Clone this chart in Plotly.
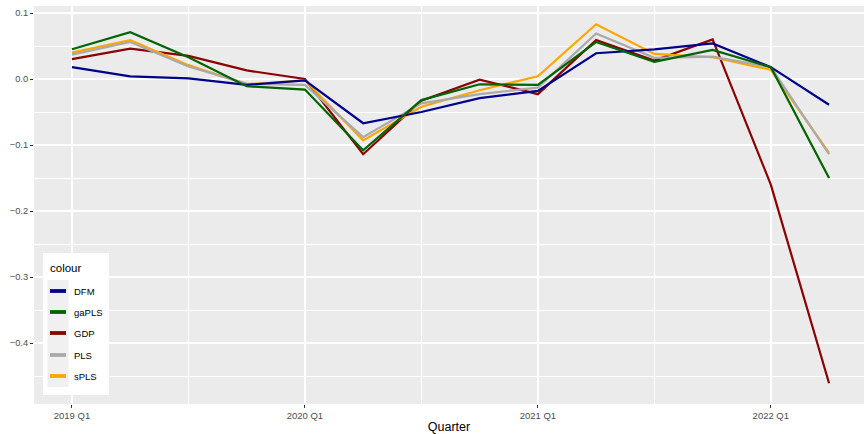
import plotly.graph_objects as go

quarters = ["2019 Q1", "2019 Q2", "2019 Q3", "2019 Q4",
            "2020 Q1", "2020 Q2", "2020 Q3", "2020 Q4",
            "2021 Q1", "2021 Q2", "2021 Q3", "2021 Q4",
            "2022 Q1", "2022 Q2"]

DFM   = [0.018, 0.004, 0.001, -0.009, -0.002, -0.067, -0.050, -0.029, -0.018, 0.039, 0.045, 0.054, 0.018, -0.039]
gaPLS = [0.045, 0.071, 0.033, -0.011, -0.016, -0.108, -0.032, -0.008, -0.009, 0.056, 0.026, 0.044, 0.018, -0.150]
GDP   = [0.030, 0.046, 0.035, 0.013, 0.000, -0.114, -0.033, -0.001, -0.023, 0.059, 0.028, 0.060, -0.160, -0.461]
PLS   = [0.037, 0.056, 0.019, -0.007, -0.009, -0.088, -0.037, -0.023, -0.013, 0.069, 0.032, 0.034, 0.018, -0.114]
sPLS  = [0.040, 0.059, 0.021, -0.008, -0.002, -0.093, -0.042, -0.017, 0.004, 0.083, 0.038, 0.033, 0.014, -0.112]

series_names = ["DFM", "gaPLS", "GDP", "PLS", "sPLS"]
series_vals = [DFM, gaPLS, GDP, PLS, sPLS]
series_colors = ["#00008B", "#006400", "#8B0000", "#A9A9A9", "#FFA500"]
draw_order = ["GDP", "sPLS", "PLS", "DFM", "gaPLS"]

W, H = 864, 434
L, R, T, B = 34, 0, 6, 30
pw, ph = W - L - R, H - T - B

def px(x):
    return (x - L) / pw

def py(y):
    return (H - B - y) / ph

xidx = list(range(len(quarters)))
fig = go.Figure()
for name in draw_order:
    k = series_names.index(name)
    fig.add_trace(go.Scatter(x=xidx, y=series_vals[k], mode="lines", name=name,
                             line=dict(color=series_colors[k], width=2.2), showlegend=False))

ytick_vals = [0.1, 0.0, -0.1, -0.2, -0.3, -0.4]
ytick_text = ["0.1", "0.0", "\u22120.1", "\u22120.2", "\u22120.3", "\u22120.4"]
xtick_idx = [0, 4, 8, 12]

# legend drawn inside panel (ggplot style)
shapes = [
    dict(type="rect", xref="paper", yref="paper", x0=px(43), x1=px(109), y0=py(395), y1=py(253),
         fillcolor="white", line=dict(width=0), layer="above"),
    dict(type="rect", xref="paper", yref="paper", x0=px(47.5), x1=px(68.5), y0=py(387), y1=py(280),
         fillcolor="#F0F0F0", line=dict(width=0), layer="above"),
]
annotations = [dict(text="colour", xref="paper", yref="paper", x=px(47.5), y=py(268),
                    xanchor="left", yanchor="middle", showarrow=False,
                    font=dict(size=11.5, color="black"))]
key_y = [291, 312, 333, 355, 376]
for k, name in enumerate(series_names):
    shapes.append(dict(type="line", xref="paper", yref="paper", x0=px(50), x1=px(66),
                       y0=py(key_y[k]), y1=py(key_y[k]),
                       line=dict(color=series_colors[k], width=3.8), layer="above"))
    annotations.append(dict(text=name, xref="paper", yref="paper", x=px(71.5), y=py(key_y[k]),
                            xanchor="left", yanchor="middle", showarrow=False,
                            font=dict(size=9.5, color="black")))

fig.update_layout(
    width=W, height=H,
    margin=dict(l=L, r=R, t=T, b=B, pad=0),
    paper_bgcolor="white", plot_bgcolor="#EBEBEB",
    font=dict(family="Liberation Sans, Arial, sans-serif", color="#4D4D4D", size=9),
    showlegend=False,
    xaxis=dict(range=[-0.652, 13.6], tickvals=xtick_idx,
               ticktext=[quarters[i] for i in xtick_idx],
               showgrid=True, gridcolor="white", gridwidth=1.6, zeroline=False,
               ticks="outside", ticklen=3, tickcolor="#333333", tickwidth=1,
               tickfont=dict(size=9.5, color="#4D4D4D"),
               minor=dict(tickvals=[2, 6, 10], showgrid=True, gridcolor="white", gridwidth=0.8, ticks=""),
               title=dict(text="Quarter", font=dict(size=12.5, color="black"), standoff=2),
               showline=False),
    yaxis=dict(range=[-0.4924, 0.1106], tickvals=ytick_vals, ticktext=ytick_text,
               showgrid=True, gridcolor="white", gridwidth=1.6, zeroline=False,
               ticks="outside", ticklen=3, tickcolor="#333333", tickwidth=1,
               tickfont=dict(size=9.3, color="#4D4D4D"),
               minor=dict(tickvals=[0.05, -0.05, -0.15, -0.25, -0.35, -0.45], showgrid=True,
                          gridcolor="white", gridwidth=0.8, ticks=""),
               showline=False),
    shapes=shapes,
    annotations=annotations,
)

fig.write_html("out.html", config={"displayModeBar": False},
               post_script="document.body.style.margin='0';")
